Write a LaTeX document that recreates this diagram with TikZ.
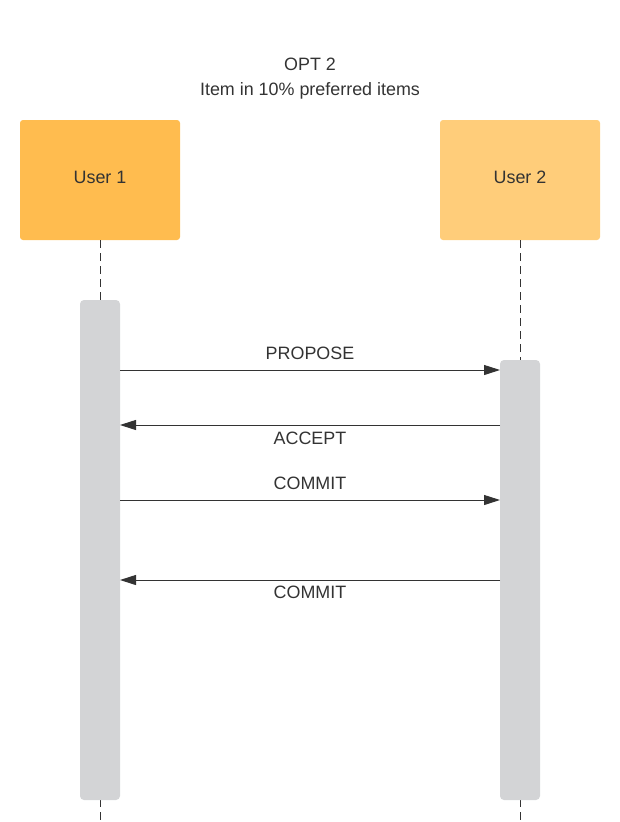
\documentclass[tikz,border=0pt]{standalone}
\usepackage{fontspec}
\setmainfont{Liberation Sans}
\usepackage{xcolor}
\usetikzlibrary{arrows.meta,positioning}
\definecolor{userA}{RGB}{255,188,79}
\definecolor{userB}{RGB}{255,205,122}
\definecolor{barGray}{RGB}{211,212,214}
\definecolor{ink}{RGB}{51,51,51}

\begin{document}
\begin{tikzpicture}[x=1pt,y=-1pt,
	user/.style={fill=#1,rounded corners=3pt,minimum width=160pt,minimum height=120pt,inner sep=0pt},
	bar/.style={fill=barGray,rounded corners=4pt,minimum width=40pt,inner sep=0pt},
	msg/.style={-{Triangle[length=16pt,width=10pt]},ink,line width=1pt},
	life/.style={ink,line width=1pt,dash pattern=on 8pt off 5pt},
	lbl/.style={text=ink,font=\fontsize{17.9}{21}\selectfont,inner sep=0pt,anchor=base}]
		\useasboundingbox (0,0) rectangle (620,822);
		\node[lbl] (title) at (310,70) {OPT 2};
		\node[lbl] (subtitle) at (310,95) {Item in 10\% preferred items};
		\node[user=userA] (user1) at (100,180) {};
		\node[user=userB] (user2) at (520,180) {};
		\node[lbl] (name1) at (100,183) {User 1};
		\node[lbl] (name2) at (520,183) {User 2};
		\coordinate (end1) at (100,822);
		\coordinate (end2) at (520,822);
		\draw[life] (user1.south) -- (end1);
		\draw[life] (user2.south) -- (end2);
		\node[bar,minimum height=500pt] (bar1) at (100,550) {};
		\node[bar,minimum height=440pt] (bar2) at (520,580) {};
		\coordinate (p1) at (120,370);
		\coordinate (p2) at (500,370);
		\coordinate (a1) at (120,425);
		\coordinate (a2) at (500,425);
		\coordinate (c1) at (120,500);
		\coordinate (c2) at (500,500);
		\coordinate (d1) at (120,580);
		\coordinate (d2) at (500,580);
		\draw[msg] (p1) -- (p2);
		\draw[msg] (a2) -- (a1);
		\draw[msg] (c1) -- (c2);
		\draw[msg] (d2) -- (d1);
		\node[lbl] (propose) at (310,359) {PROPOSE};
		\node[lbl] (accept) at (310,444) {ACCEPT};
		\node[lbl] (commit1) at (310,489) {COMMIT};
		\node[lbl] (commit2) at (310,598.5) {COMMIT};
	\end{tikzpicture}
\end{document}
